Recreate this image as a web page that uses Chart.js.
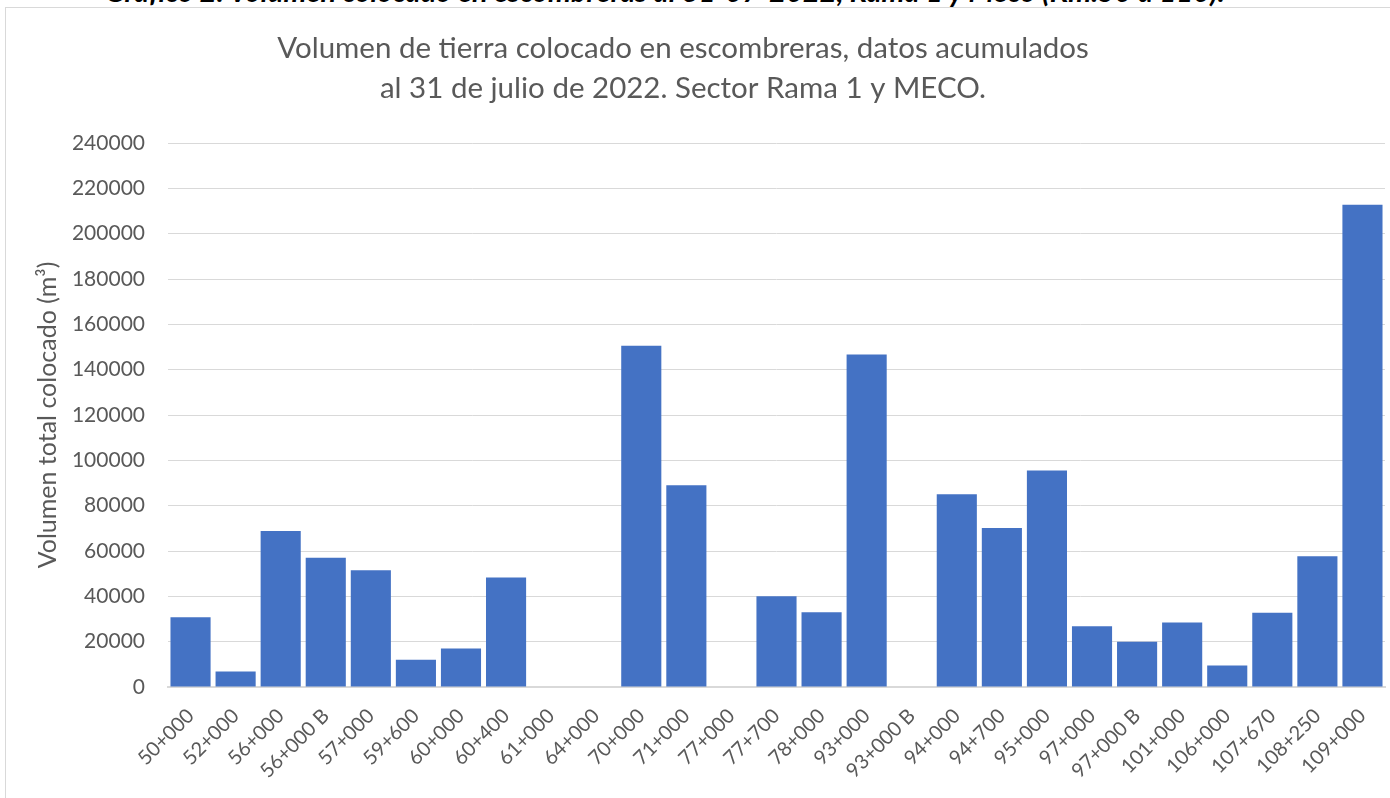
<!DOCTYPE html>
<html><head><meta charset="utf-8">
<script src="https://cdn.jsdelivr.net/npm/chart.js@4"></script>
<style>
html,body{margin:0;padding:0;background:#fff;overflow:hidden;width:1390px;height:798px;}
#hdr{position:absolute;left:105px;top:-26px;font:italic bold 29px Lato;line-height:1.2;color:#000;white-space:nowrap;}
#frame{position:absolute;left:5px;top:7px;width:1400px;height:800px;border-left:1px solid #d9d9d9;border-top:1px solid #d9d9d9;}
#wrap{position:absolute;left:8px;top:8px;width:1382px;height:790px;}
</style></head><body>
<div id="hdr">Gráfico 2. Volumen colocado en escombreras al 31-07-2022, Rama 1 y Meco (Km.50 a 110).</div>
<div id="frame"></div>
<div id="wrap"><canvas id="c"></canvas></div>
<script>
const categories = ['50+000','52+000','56+000','56+000 B','57+000','59+600','60+000','60+400','61+000','64+000','70+000','71+000','77+000','77+700','78+000','93+000','93+000 B','94+000','94+700','95+000','97+000','97+000 B','101+000','106+000','107+670','108+250','109+000'];
const volumes = [30800, 6800, 68800, 57000, 51500, 12000, 17000, 48300, 0, 0, 150500, 89000, 0, 40000, 33000, 146700, 0, 85000, 70200, 95500, 26800, 20000, 28500, 9500, 32800, 57700, 212800];
const titleLines = ['Volumen de tierra colocado en escombreras, datos acumulados', 'al 31 de julio de 2022. Sector Rama 1 y MECO.'];
const yAxisTitle = 'Volumen total colocado (m³)';
const yMin = 0, yMax = 240000, yStep = 20000;

const titlePlugin = {
  id: 'customTitle',
  afterDraw(chart) {
    const ctx = chart.ctx;
    ctx.save();
    ctx.font = '29.5px Lato';
    ctx.fillStyle = '#595959';
    ctx.textAlign = 'center';
    ctx.textBaseline = 'middle';
    titleLines.forEach((t, i) => ctx.fillText(t, 675, 40 + i * 40));
    ctx.restore();
  }
};

new Chart(document.getElementById('c'), {
  type: 'bar',
  data: {
    labels: categories,
    datasets: [{
      data: volumes,
      backgroundColor: '#4472C4',
      borderWidth: 0,
      barPercentage: 0.89,
      categoryPercentage: 1
    }]
  },
  options: {
    responsive: true,
    maintainAspectRatio: false,
    animation: false,
    layout: { padding: { top: 135, right: 5, left: 0, bottom: 0 } },
    plugins: { legend: { display: false }, tooltip: { enabled: false }, title: { display: false } },
    scales: {
      x: {
        grid: { display: false, drawTicks: false },
        border: { color: '#d9d9d9', width: 2 },
        ticks: { color: '#595959', font: { family: 'Lato', size: 20 }, minRotation: 45, maxRotation: 45, autoSkip: false, padding: 17 },
        afterFit(s) { s.height = 111; s.paddingRight = 0; s.paddingLeft = 0; }
      },
      y: {
        min: yMin, max: yMax,
        ticks: { stepSize: yStep, color: '#595959', font: { family: 'Lato', size: 21 }, padding: 23, callback: v => String(v) },
        grid: { color: '#d9d9d9', drawTicks: false },
        border: { display: false },
        title: { display: true, text: yAxisTitle, color: '#595959', font: { family: 'Lato', size: 25 }, padding: { top: 25 } },
        afterFit(s) { s.width = 160; }
      }
    }
  },
  plugins: [titlePlugin]
});
</script>
</body></html>
